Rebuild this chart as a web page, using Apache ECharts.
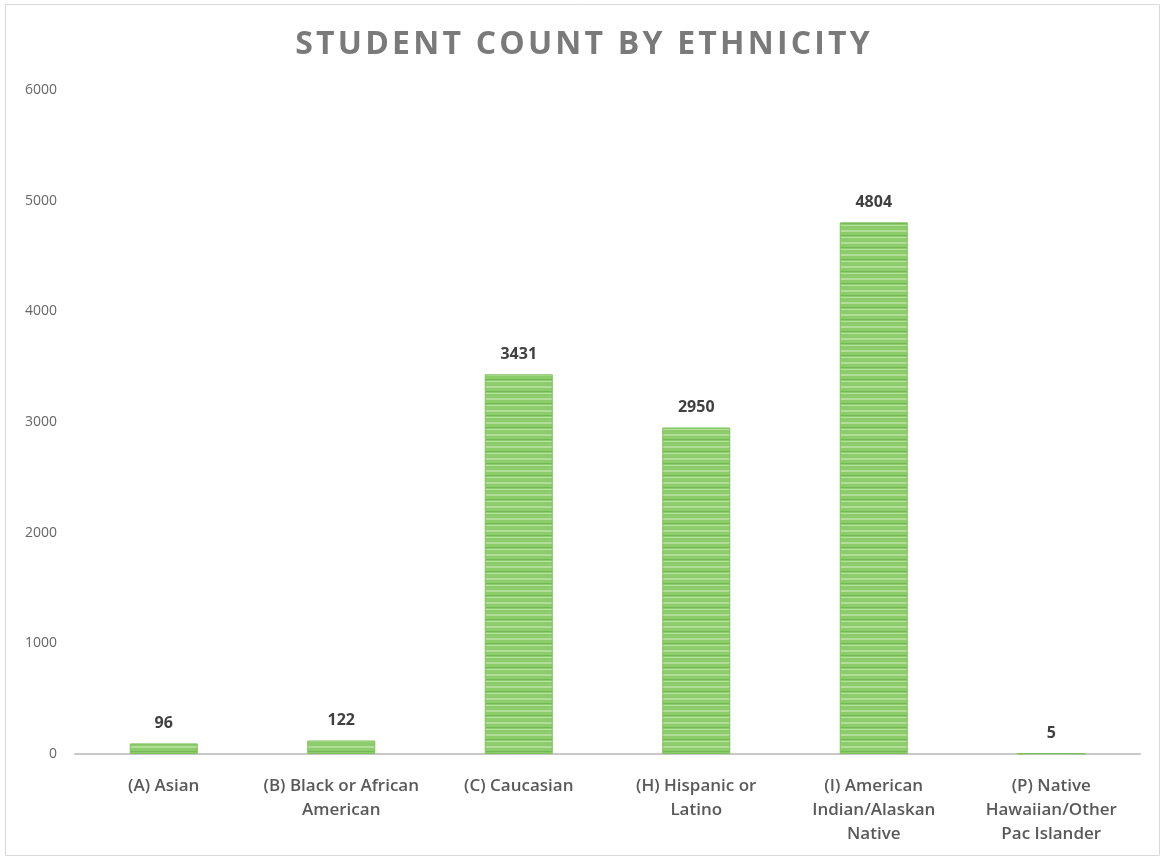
<!DOCTYPE html>
<html>
<head>
<meta charset="utf-8">
<script src="https://cdn.jsdelivr.net/npm/echarts@6/dist/echarts.min.js"></script>
<style>
html,body{margin:0;padding:0;background:#fff;}
#main{width:1165px;height:861px;}
</style>
</head>
<body>
<div id="main"></div>
<script>
const categories = [
  "(A) Asian",
  "(B) Black or African\nAmerican",
  "(C) Caucasian",
  "(H) Hispanic or\nLatino",
  "(I) American\nIndian/Alaskan\nNative",
  "(P) Native\nHawaiian/Other\nPac Islander"
];
const studentCounts = [96, 122, 3431, 2950, 4804, 5];
const yTicks = { min: 0, max: 6000, interval: 1000 };
const titleText = "STUDENT COUNT BY ETHNICITY";

function stripePattern() {
  const c = document.createElement('canvas');
  c.width = 8; c.height = 12;
  const ctx = c.getContext('2d');
  ctx.fillStyle = '#8ccc6b';
  ctx.fillRect(0, 0, 8, 12);
  ctx.fillStyle = '#b0de96';
  ctx.fillRect(0, 2, 8, 2);
  ctx.fillStyle = '#76b856';
  ctx.fillRect(0, 7, 8, 1);
  ctx.fillStyle = '#b8e2a0';
  ctx.fillRect(0, 9, 8, 1);
  return c;
}

const chart = echarts.init(document.getElementById('main'), null, { renderer: 'canvas' });
chart.setOption({
  animation: false,
  backgroundColor: '#ffffff',
  title: {
    text: titleText.split('').join('\u200A'),
    left: 'center',
    top: 24,
    textStyle: {
      fontFamily: 'Open Sans',
      fontSize: 32,
      fontWeight: 'bold',
      color: '#7a7a7a'
    }
  },
  graphic: [{
    type: 'rect',
    shape: { x: 5.5, y: 4.5, width: 1154, height: 851 },
    style: { fill: 'none', stroke: '#d9d9d9', lineWidth: 1 },
    silent: true
  }],
  grid: { left: 75, right: 25, top: 90, bottom: 107 },
  xAxis: {
    type: 'category',
    data: categories,
    axisLine: { lineStyle: { color: '#c8c8c8', width: 2 } },
    axisTick: { show: false },
    axisLabel: {
      interval: 0,
      margin: 20,
      lineHeight: 24,
      fontFamily: 'Open Sans',
      fontSize: 17,
      fontWeight: 600,
      color: '#595959'
    }
  },
  yAxis: {
    type: 'value',
    min: yTicks.min,
    max: yTicks.max,
    interval: yTicks.interval,
    splitLine: { show: false },
    axisLine: { show: false },
    axisTick: { show: false },
    axisLabel: {
      margin: 18,
      fontFamily: 'Open Sans',
      fontSize: 14,
      color: '#666666',
      formatter: function (v) { return String(v); }
    }
  },
  series: [{
    type: 'bar',
    data: studentCounts,
    barWidth: 68,
    itemStyle: {
      color: { image: stripePattern(), repeat: 'repeat' },
      borderColor: '#7cc05a',
      borderWidth: 1
    },
    label: {
      show: true,
      position: 'top',
      distance: 12,
      fontFamily: 'Open Sans',
      fontSize: 16,
      fontWeight: 'bold',
      color: '#404040'
    }
  }]
});
</script>
</body>
</html>
